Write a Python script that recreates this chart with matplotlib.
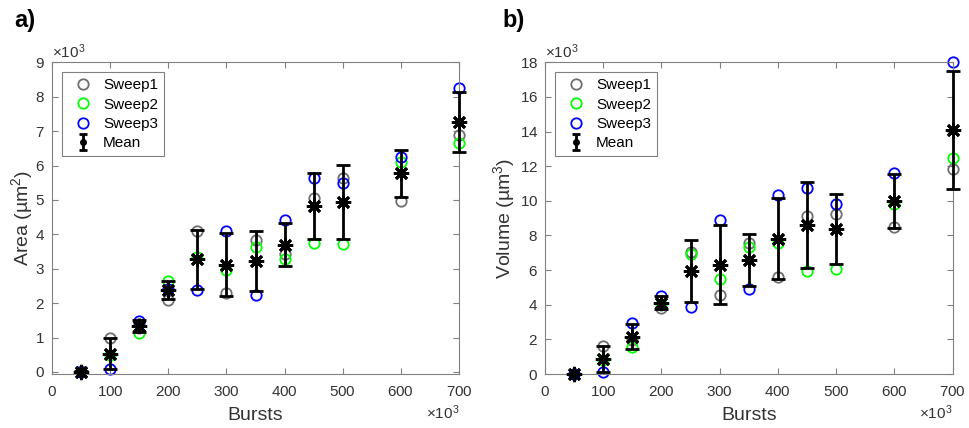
import numpy as np
import matplotlib
matplotlib.use("Agg")
import matplotlib.pyplot as plt
from matplotlib.lines import Line2D
from matplotlib.ticker import ScalarFormatter, MultipleLocator

plt.rcParams['font.family'] = ['Liberation Sans', 'DejaVu Sans']
plt.rcParams['mathtext.fontset'] = 'custom'
plt.rcParams['mathtext.rm'] = 'Liberation Sans'
plt.rcParams['mathtext.it'] = 'Liberation Sans:italic'
plt.rcParams['mathtext.bf'] = 'Liberation Sans:bold'

# Number of bursts per run
bursts = [50000, 100000, 150000, 200000, 250000, 300000,
          350000, 400000, 450000, 500000, 600000, 700000]

# Ablated area (µm²) for three sweeps
area_sweep1 = [20, 990, 1400, 2100, 4100, 2300, 3830, 3420, 5060, 5630, 4980, 6900]
area_sweep2 = [0, 500, 1130, 2630, 3350, 2970, 3620, 3280, 3760, 3710, 6090, 6650]
area_sweep3 = [10, 100, 1480, 2410, 2380, 4100, 2240, 4410, 5625, 5480, 6250, 8250]

# Ablated volume (µm³) for three sweeps
vol_sweep1 = [20, 1630, 1970, 3790, 7020, 4540, 7540, 5620, 9130, 9230, 8500, 11820]
vol_sweep2 = [0, 790, 1540, 4040, 6920, 5500, 7350, 7540, 5920, 6040, 9810, 12450]
vol_sweep3 = [10, 130, 2940, 4520, 3880, 8880, 4880, 10310, 10760, 9810, 11620, 18000]

sweep_labels = ['Sweep1', 'Sweep2', 'Sweep3']
sweep_colors = ['#6e6e6e', '#00ff00', '#0000ff']
axis_gray = '#808080'
text_gray = '#333333'


def style_axes(ax, ymax, ystep, ymin):
    ax.set_xlim(0, 700000)
    ax.set_ylim(ymin, ymax)
    ax.xaxis.set_major_locator(MultipleLocator(100000))
    ax.yaxis.set_major_locator(MultipleLocator(ystep))
    for axis in (ax.xaxis, ax.yaxis):
        fmt = ScalarFormatter(useMathText=True)
        fmt.set_powerlimits((3, 3))
        axis.set_major_formatter(fmt)
        axis.get_offset_text().set_fontsize(11)
        axis.get_offset_text().set_color(text_gray)
    ax.tick_params(direction='in', length=4, width=0.8, colors=axis_gray,
                   labelcolor=text_gray, labelsize=11, top=True, right=True)
    ax.tick_params(axis='x', pad=8)
    ax.tick_params(axis='y', pad=5)
    for sp in ax.spines.values():
        sp.set_color(axis_gray)
        sp.set_linewidth(0.8)
    ax.set_xlabel('Bursts', fontsize=14, color=text_gray, labelpad=6)


def draw_panel(ax, sweeps, ylabel, ypad):
    x = np.array(bursts, dtype=float)
    data = np.array(sweeps, dtype=float)
    for vals, lab, col in zip(data, sweep_labels, sweep_colors):
        ax.plot(x, vals, linestyle='none', marker='o', markersize=7.5,
                markerfacecolor='none', markeredgecolor=col,
                markeredgewidth=1.3, label=lab, clip_on=False)
    mean = data.mean(axis=0)
    std = data.std(axis=0, ddof=1)
    eb = ax.errorbar(x, mean, yerr=std, fmt='none', ecolor='k', elinewidth=2,
                     capsize=4.7, capthick=2, zorder=3)
    for art in eb.get_children():
        art.set_clip_on(False)
    ax.plot(x, mean, linestyle='none', marker=(8, 2, 0), markersize=11,
            markeredgewidth=2, color='k', zorder=4, clip_on=False)
    ax.set_ylabel(ylabel, fontsize=14, color=text_gray, labelpad=ypad)

    handles = [Line2D([], [], linestyle='none', marker='o', markersize=7.5,
                      markerfacecolor='none', markeredgecolor=c,
                      markeredgewidth=1.3) for c in sweep_colors]
    proxy = ax.errorbar([np.nan], [np.nan], yerr=[np.nan], fmt='o', color='k',
                        markersize=4, elinewidth=2, capsize=2.8, capthick=2)
    handles.append(proxy)
    leg = ax.legend(handles, sweep_labels + ['Mean'], loc='upper left',
                    fontsize=11, frameon=True, fancybox=False, framealpha=1,
                    edgecolor=axis_gray, borderaxespad=0.65, borderpad=0.4,
                    labelspacing=0.35, handlelength=2.0, handletextpad=0.3)
    leg.get_frame().set_linewidth(0.8)


fig = plt.figure(figsize=(9.69, 4.28), dpi=100)
ax1 = fig.add_axes([52 / 969, 1 - 373.7 / 428, 407 / 969, 311.4 / 428])
ax2 = fig.add_axes([545 / 969, 1 - 374 / 428, 407.5 / 969, 311.7 / 428])

style_axes(ax1, 9000, 1000, -50)
style_axes(ax2, 18000, 2000, 0)
draw_panel(ax1, [area_sweep1, area_sweep2, area_sweep3], 'Area (µm$^2$)', 0)
draw_panel(ax2, [vol_sweep1, vol_sweep2, vol_sweep3], 'Volume (µm$^3$)', 1.5)

fig.text(14 / 969, 1 - 20 / 428, 'a)', fontsize=17, fontweight='bold',
         va='center', ha='left')
fig.text(502 / 969, 1 - 20 / 428, 'b)', fontsize=17, fontweight='bold',
         va='center', ha='left')

fig.savefig('out.png', dpi=100)
